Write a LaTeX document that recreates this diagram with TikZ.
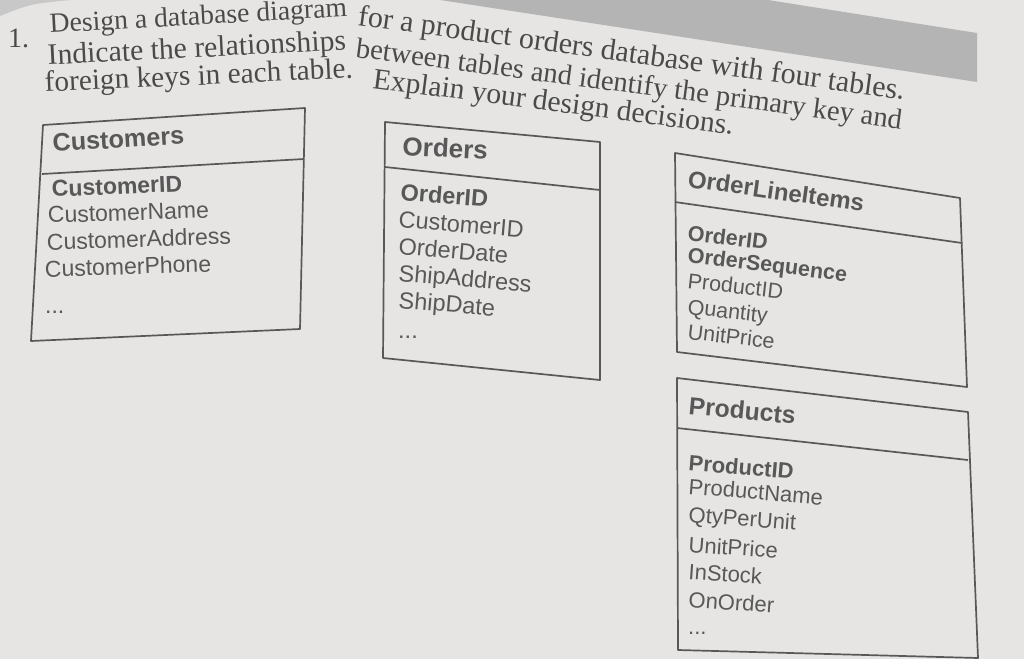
\documentclass[tikz,border=0pt]{standalone}
\usepackage{fontspec}
\setmainfont{Liberation Serif}
\newfontfamily\tabfont{Liberation Sans}
\definecolor{page}{HTML}{E6E5E3}
\definecolor{band}{HTML}{B4B4B4}
\definecolor{corner}{HTML}{C8C8C8}
\definecolor{ink}{HTML}{4A4A4A}
\definecolor{boxink}{HTML}{585858}
\tikzset{
  heading/.style={anchor=base west, inner sep=0pt, text=ink, font=\fontsize{#1}{#1}\selectfont},
  heading/.default=28,
  fld/.style={anchor=base west, inner sep=0pt, text=boxink, font=\tabfont\fontsize{#1}{#1}\selectfont},
  fld/.default=22,
  pk/.style={anchor=base west, inner sep=0pt, text=boxink, font=\tabfont\bfseries\fontsize{#1}{#1}\selectfont},
  pk/.default=22,
  ttl/.style={anchor=base west, inner sep=0pt, text=boxink, font=\tabfont\bfseries\fontsize{#1}{#1}\selectfont},
  ttl/.default=24,
  frame/.style={draw=boxink, line width=1.7pt, line join=round},
}
\begin{document}
\begin{tikzpicture}[x=1pt,y=-1pt]
\useasboundingbox (0,0) rectangle (1024,659);
\clip (0,0) rectangle (1024,659);
\fill[page] (0,0) rectangle (1024,659);
% shaded band and corner
\fill[band] (440,0) -- (768,0) -- (977,33) -- (977,82) -- cycle;
\fill[corner] (0,0) -- (70,0) .. controls (30,4) .. (0,16) -- cycle;

% heading
\node[heading=28] (num) at (8,47) {1.};
\node[heading=27.7, rotate=3.2] (h1a) at (50,33) {Design a database diagram};
\node[heading=30, rotate=-7.8] (h1b) at (357,25) {for a product orders database with four tables.};
\node[heading=29.7, rotate=2.9] (h2a) at (48,65) {Indicate the relationships};
\node[heading=28.6, rotate=-7.5] (h2b) at (355,57) {between tables and identify the primary key and};
\node[heading=29.3, rotate=2.6] (h3a) at (45,92) {foreign keys in each table.};
\node[heading=29.6, rotate=-7.4] (h3b) at (372,88) {Explain your design decisions.};

% Customers
\coordinate (c1) at (43,125); \coordinate (c2) at (305,108);
\coordinate (c3) at (300,329); \coordinate (c4) at (31,341);
\coordinate (c5) at (42,174); \coordinate (c6) at (304,159);
\draw[frame] (c1) -- (c2) -- (c3) -- (c4) -- cycle;
\draw[frame] (c5) -- (c6);
\node[ttl=25.2, rotate=3.5] (cT) at (53,152) {Customers};
\node[pk=23, rotate=2.5] (cA) at (52,197) {CustomerID};
\node[fld=23, rotate=1.8] (cB) at (48,223) {CustomerName};
\node[fld=23, rotate=1.8] (cC) at (47,250) {CustomerAddress};
\node[fld=23, rotate=1.8] (cD) at (45,277) {CustomerPhone};
\node[fld=23] (cE) at (45,313) {...};

% Orders
\coordinate (o1) at (385,122); \coordinate (o2) at (600,142);
\coordinate (o3) at (600,380); \coordinate (o4) at (383,358);
\coordinate (o5) at (385,167); \coordinate (o6) at (600,190);
\draw[frame] (o1) -- (o2) -- (o3) -- (o4) -- cycle;
\draw[frame] (o5) -- (o6);
\node[ttl=26, rotate=-3] (oT) at (402,155) {Orders};
\node[pk=23.5, rotate=-4.5] (oA) at (400,200) {OrderID};
\node[fld=23.5, rotate=-4.8] (oB) at (398,227) {CustomerID};
\node[fld=23.5, rotate=-4.8] (oC) at (398,254) {OrderDate};
\node[fld=23.5, rotate=-4.8] (oD) at (398,281) {ShipAddress};
\node[fld=23.5, rotate=-4.8] (oE) at (398,308) {ShipDate};
\node[fld=23.5] (oF) at (398,338) {...};

% OrderLineItems
\coordinate (l1) at (675,153); \coordinate (l2) at (960,198);
\coordinate (l3) at (967,387); \coordinate (l4) at (677,352);
\coordinate (l5) at (675,202); \coordinate (l6) at (962,243);
\draw[frame] (l1) -- (l2) -- (l3) -- (l4) -- cycle;
\draw[frame] (l5) -- (l6);
\node[ttl=24, rotate=-8] (lT) at (687,187) {OrderLineItems};
\node[pk=21.5, rotate=-7] (lA) at (687,240) {OrderID};
\node[pk=21.5, rotate=-7] (lB) at (687,262) {OrderSequence};
\node[fld=21.5, rotate=-6.5] (lC) at (687,288) {ProductID};
\node[fld=21.5, rotate=-6.5] (lD) at (687,314) {Quantity};
\node[fld=21.5, rotate=-6.5] (lE) at (687,339) {UnitPrice};

% Products
\coordinate (p1) at (677,378); \coordinate (p2) at (968,412);
\coordinate (p3) at (978,658); \coordinate (p4) at (678,650);
\coordinate (p5) at (677,428); \coordinate (p6) at (968,460);
\draw[frame] (p1) -- (p2) -- (p3) -- (p4) -- cycle;
\draw[frame] (p5) -- (p6);
\node[ttl=24.7, rotate=-5.5] (pT) at (688,414) {Products};
\node[pk=22, rotate=-5] (pA) at (688,470) {ProductID};
\node[fld=22, rotate=-4.7] (pB) at (688,494) {ProductName};
\node[fld=22, rotate=-4.5] (pC) at (688,522) {QtyPerUnit};
\node[fld=22, rotate=-4.2] (pD) at (688,552) {UnitPrice};
\node[fld=22, rotate=-4] (pE) at (688,579) {InStock};
\node[fld=22, rotate=-4] (pF) at (688,607) {OnOrder};
\node[fld=22] (pG) at (688,634) {...};
\end{tikzpicture}
\end{document}
